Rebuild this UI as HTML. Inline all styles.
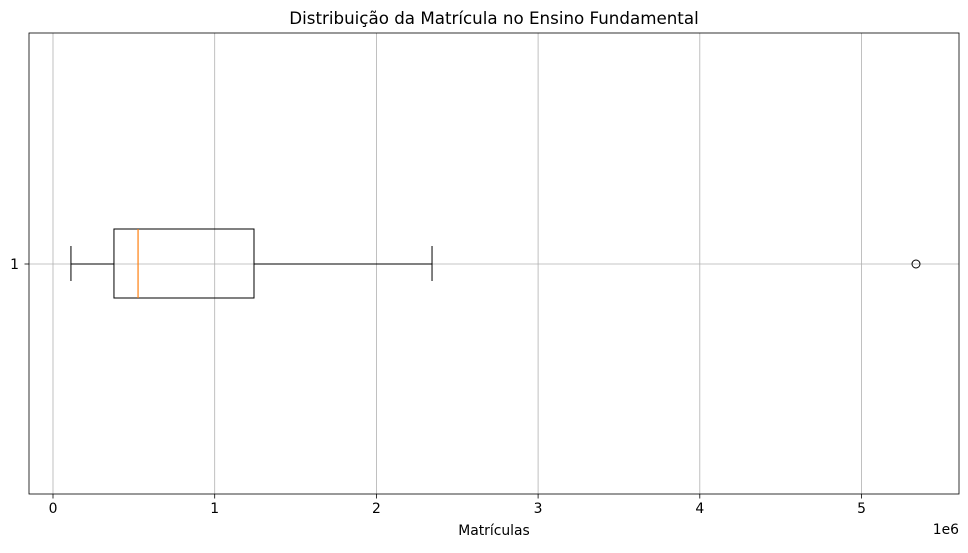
<!DOCTYPE html>
<html><head><meta charset="utf-8"><style>body{margin:0;background:#fff}svg{font-family:"DejaVu Sans","Liberation Sans",sans-serif}</style></head>
<body>
<svg id="chart" width="968" height="548" viewBox="0 0 968 548"></svg>
<script>
const tickValues = [0, 1, 2, 3, 4, 5];
const tickLabels = ["0", "1", "2", "3", "4", "5"];
const whiskerLow = [0.111];
const q1 = [0.377];
const median = [0.526];
const q3 = [1.243];
const whiskerHigh = [2.344];
const outliers = [5.337];
const categories = ["1"];

const svg = document.getElementById('chart');
const NS = 'http://www.w3.org/2000/svg';
const L = 29, R = 959, T = 33, B = 494;
const x = v => 53 + v * 161.7;
const y = i => 264;
function mk(tag, attrs, name, parent) {
  const e = document.createElementNS(NS, tag);
  for (const k in attrs) e.setAttribute(k, attrs[k]);
  
  
  (parent || svg).appendChild(e);
  return e;
}
tickValues.forEach((v, i) => {
  mk('line', {x1: x(v), x2: x(v), y1: T, y2: B, stroke: '#b0b0b0', 'stroke-width': 0.8}, 'x-grid-line');
  mk('line', {x1: x(v), x2: x(v), y1: B, y2: B + 4.5, stroke: '#000', 'stroke-width': 0.8}, 'x-tick');
  const t = mk('text', {x: x(v), y: B + 19, 'text-anchor': 'middle', 'font-size': 13.9}, 'x-tick-label');
  t.textContent = tickLabels[i];
});
categories.forEach((c, i) => {
  mk('line', {x1: L, x2: R, y1: y(i), y2: y(i), stroke: '#b0b0b0', 'stroke-width': 0.8}, 'y-grid-line');
  mk('line', {x1: L - 4.5, x2: L, y1: y(i), y2: y(i), stroke: '#000', 'stroke-width': 0.8}, 'y-tick');
  const t = mk('text', {x: L - 10, y: y(i) + 5, 'text-anchor': 'end', 'font-size': 13.9}, 'y-tick-label');
  t.textContent = c;
  const cy = y(i);
  mk('line', {x1: x(whiskerLow[i]), x2: x(q1[i]), y1: cy, y2: cy, stroke: '#000', 'stroke-width': 1}, 'lower-whisker');
  mk('line', {x1: x(q3[i]), x2: x(whiskerHigh[i]), y1: cy, y2: cy, stroke: '#000', 'stroke-width': 1}, 'upper-whisker');
  mk('line', {x1: x(whiskerLow[i]), x2: x(whiskerLow[i]), y1: cy - 18, y2: cy + 17, stroke: '#000', 'stroke-width': 1}, 'lower-cap');
  mk('line', {x1: x(whiskerHigh[i]), x2: x(whiskerHigh[i]), y1: cy - 18, y2: cy + 17, stroke: '#000', 'stroke-width': 1}, 'upper-cap');
  mk('rect', {x: x(q1[i]), y: cy - 35, width: x(q3[i]) - x(q1[i]), height: 69, fill: 'none', stroke: '#000', 'stroke-width': 1}, 'iqr-box');
  mk('line', {x1: x(median[i]), x2: x(median[i]), y1: cy - 35, y2: cy + 34, stroke: '#ff7f0e', 'stroke-width': 1.2}, 'median-line');
  outliers.forEach(o => mk('circle', {cx: x(o), cy: cy, r: 4, fill: 'none', stroke: '#000', 'stroke-width': 1}, 'outlier-point'));
});
mk('rect', {x: L, y: T, width: R - L, height: B - T, fill: 'none', stroke: '#000', 'stroke-width': 0.8}, 'plot-frame');
let t = mk('text', {x: 494, y: 24, 'text-anchor': 'middle', 'font-size': 16.7}, 'chart-title');
t.textContent = 'Distribuição da Matrícula no Ensino Fundamental';
t = mk('text', {x: 494, y: 535, 'text-anchor': 'middle', 'font-size': 13.9}, 'x-axis-title');
t.textContent = 'Matrículas';
t = mk('text', {x: 959, y: 534, 'text-anchor': 'end', 'font-size': 13.9}, 'x-axis-offset-label');
t.textContent = '1e6';
</script>
</body></html>
